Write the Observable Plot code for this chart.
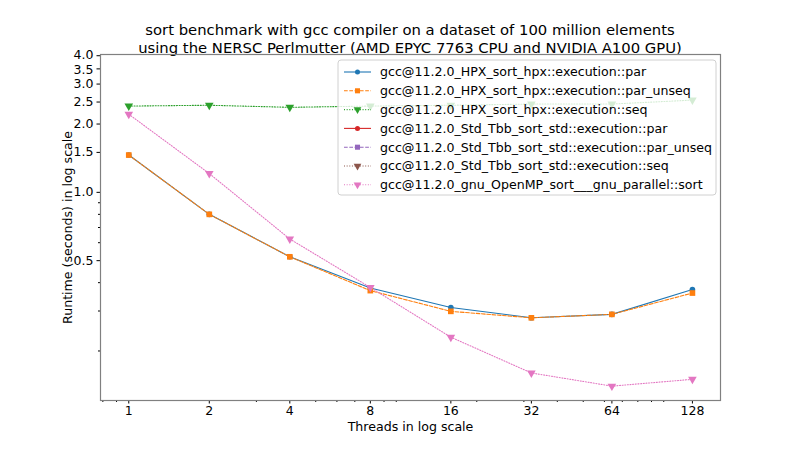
<!DOCTYPE html>
<html>
<head>
<meta charset="utf-8">
<script src="https://cdn.jsdelivr.net/npm/d3@7"></script>
<script src="https://cdn.jsdelivr.net/npm/@observablehq/plot@0.6"></script>
<style>
  body { margin: 0; background: #fff; font-family: "DejaVu Sans", sans-serif; }
  #wrap { width: 800px; height: 450px; position: relative; overflow: hidden; }
  #title { position: absolute; left: 0; top: 21px; width: 820px; text-align: center; font-size: 14.8px; line-height: 17.5px; color: #000; }
  #chart { position: absolute; left: 0; top: 50px; }
</style>
</head>
<body>
<div id="wrap">
  <div id="title">sort benchmark with gcc compiler on a dataset of 100 million elements<br>using the NERSC Perlmutter (AMD EPYC 7763 CPU and NVIDIA A100 GPU)</div>
  <div id="chart"></div>
</div>
<script>
const threads = [1, 2, 4, 8, 16, 32, 64, 128];
const hpxPar = [1.46, 0.80, 0.52, 0.379, 0.311, 0.280, 0.290, 0.373];
const hpxParUnseq = [1.46, 0.80, 0.52, 0.369, 0.299, 0.280, 0.290, 0.360];
const hpxSeq = [2.40, 2.42, 2.37, 2.40, 2.42, 2.45, 2.45, 2.55];
const tbbPar = [];
const tbbParUnseq = [];
const tbbSeq = [];
const gnuSort = [2.21, 1.21, 0.623, 0.381, 0.230, 0.160, 0.140, 0.150];

const seriesNames = [
  "gcc@11.2.0_HPX_sort_hpx::execution::par",
  "gcc@11.2.0_HPX_sort_hpx::execution::par_unseq",
  "gcc@11.2.0_HPX_sort_hpx::execution::seq",
  "gcc@11.2.0_Std_Tbb_sort_std::execution::par",
  "gcc@11.2.0_Std_Tbb_sort_std::execution::par_unseq",
  "gcc@11.2.0_Std_Tbb_sort_std::execution::seq",
  "gcc@11.2.0_gnu_OpenMP_sort___gnu_parallel::sort"
];
const seriesValues = [hpxPar, hpxParUnseq, hpxSeq, tbbPar, tbbParUnseq, tbbSeq, gnuSort];
const xTickLabels = ["1", "2", "4", "8", "16", "32", "64", "128"];
const yTicks = [0.5, 1.0, 1.5, 2.0, 2.5, 3.0, 3.5, 4.0];
const yTickLabels = ["0.5", "1.0", "1.5", "2.0", "2.5", "3.0", "3.5", "4.0"];
const yMinor = [0.2, 0.3, 0.4, 0.6, 0.7, 0.8, 0.9];
const xMinor = [0.8, 0.9, 3, 5, 6, 7, 9, 10, 20, 30, 40, 50, 60, 70, 80, 90, 100];

const colors = ["#1f77b4", "#ff7f0e", "#2ca02c", "#d62728", "#9467bd", "#8c564b", "#e377c2"];
const dashes = [null, "3.7,1.6", "1,1.65", null, "3.7,1.6", "1,1.65", "1,1.65"];
const symbols = ["circle", "square", "triangle", "circle", "square", "triangle", "triangle"];
const rotations = [0, 0, 180, 0, 0, 180, 180];
const radii = [2.8, 3.2, 3.2, 2.8, 3.2, 3.2, 3.2];

const rows = [];
seriesValues.forEach((vals, si) => {
  vals.forEach((v, i) => rows.push({series: si, t: threads[i], v}));
});
const xLabelRows = threads.map((t, i) => ({t, label: xTickLabels[i]}));
const yLabelRows = yTicks.map((v, i) => ({v, label: yTickLabels[i]}));

const marks = [];
seriesValues.forEach((vals, si) => {
  const d = rows.filter(r => r.series === si);
  if (!d.length) return;
  marks.push(Plot.line(d, {x: "t", y: "v", stroke: colors[si], strokeWidth: 1.1, strokeDasharray: dashes[si]}));
});
seriesValues.forEach((vals, si) => {
  const d = rows.filter(r => r.series === si);
  if (!d.length) return;
  marks.push(Plot.dot(d, {x: "t", y: "v", fill: colors[si], stroke: "none", symbol: symbols[si], r: radii[si], rotate: rotations[si]}));
});

const yLabelStyle = {y: "v", text: "label", frameAnchor: "left", textAnchor: "end", lineAnchor: "middle", fontSize: 12.5, fill: "#000"};

const plot = Plot.plot({
  width: 800,
  height: 400,
  marginLeft: 100,
  marginRight: 80,
  marginTop: 4,
  marginBottom: 50,
  style: {fontFamily: "DejaVu Sans, sans-serif", fontSize: "12.5px", background: "transparent", overflow: "visible"},
  x: {type: "log", domain: [0.784, 163]},
  y: {type: "log", domain: [0.121, 4.05]},
  marks: [
    Plot.axisX({ticks: xMinor, tickSize: 2, tickFormat: () => "", label: null}),
    Plot.axisX({ticks: threads, tickSize: 3.5, tickFormat: () => "", label: null}),
    Plot.text(xLabelRows, {x: "t", text: "label", frameAnchor: "bottom", dy: 10.5, lineAnchor: "middle", textAnchor: "middle", fontSize: 12.5, fill: "#000"}),
    Plot.axisY({ticks: yMinor, tickSize: 2, tickFormat: () => "", label: null}),
    Plot.axisY({ticks: yTicks, tickSize: 3.5, tickFormat: () => "", label: null}),
    Plot.text(yLabelRows.filter(d => d.v < 3.2), {...yLabelStyle, dx: -7}),
    Plot.text(yLabelRows.filter(d => d.v > 3.2 && d.v < 3.8), {...yLabelStyle, dx: -7, dy: 1}),
    Plot.text(yLabelRows.filter(d => d.v > 3.8), {...yLabelStyle, dx: -7, dy: -1}),
    Plot.text(["Threads in log scale"], {frameAnchor: "bottom", dy: 26, lineAnchor: "middle", textAnchor: "middle", fontSize: 12.6, fill: "#000"}),
    Plot.text(["Runtime (seconds) in log scale"], {frameAnchor: "left", dx: -33, rotate: -90, textAnchor: "middle", lineAnchor: "middle", fontSize: 12.6, fill: "#000"}),
    ...marks,
    Plot.frame({stroke: "#808080", strokeWidth: 1.2})
  ]
});
document.getElementById("chart").appendChild(plot);

// legend
const svg = d3.select(plot);
const lg = svg.append("g").attr("transform", "translate(338,10)").attr("text-anchor", "start");
lg.append("rect").attr("width", 378).attr("height", 135).attr("rx", 3)
  .attr("fill", "#fff").attr("fill-opacity", 0.8).attr("stroke", "#d0d0d0");
seriesNames.forEach((name, i) => {
  const y = 12 + i * 18.8;
  const row = lg.append("g").attr("transform", `translate(0,${y})`);
  row.append("line").attr("x1", 6).attr("x2", 33).attr("y1", 0).attr("y2", 0)
    .attr("stroke", colors[i]).attr("stroke-width", 1.1).attr("stroke-dasharray", dashes[i]);
  row.append("path").attr("d", d3.symbol(symbols[i] === "circle" ? d3.symbolCircle : symbols[i] === "square" ? d3.symbolSquare : d3.symbolTriangle, Math.PI * radii[i] * radii[i] * 0.8)())
    .attr("transform", `translate(19.5,0) rotate(${rotations[i]})`).attr("fill", colors[i]);
  row.append("text").attr("x", 42).attr("y", 0).attr("dy", "0.35em").attr("text-anchor", "start")
    .attr("font-size", 12.6).attr("fill", "#000").text(name);
});
</script>
</body>
</html>
